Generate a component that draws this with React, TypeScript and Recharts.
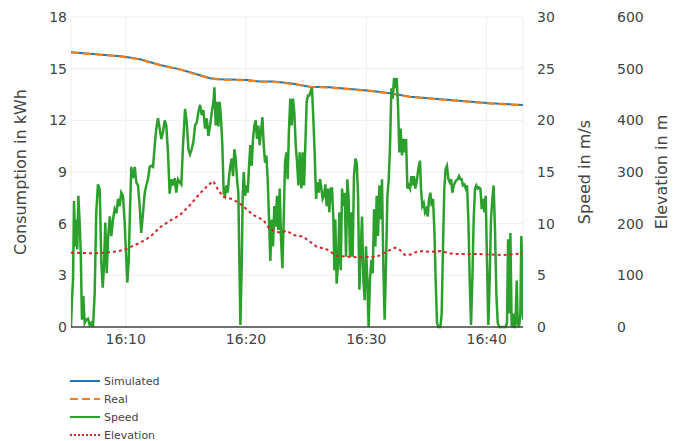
import { CartesianGrid, Legend, Line, LineChart, XAxis, YAxis } from "recharts";

// minutes after 16:00
const consTime = [5.45, 7.03, 8.28, 9.8, 11.19, 12.85, 14.51, 15.62, 17.0, 17.84, 20.05, 21.16, 22.27, 23.65, 25.32, 26.98, 30.31, 31.97, 33.63, 36.95, 40.28, 43.02];
const simulated = [15.95, 15.86, 15.8, 15.7, 15.55, 15.21, 14.96, 14.73, 14.44, 14.38, 14.34, 14.25, 14.26, 14.15, 13.95, 13.92, 13.72, 13.57, 13.37, 13.18, 12.99, 12.89];
const real = [15.94, 15.85, 15.79, 15.68, 15.53, 15.2, 14.95, 14.71, 14.42, 14.37, 14.32, 14.24, 14.24, 14.13, 13.94, 13.9, 13.7, 13.55, 13.36, 13.16, 12.98, 12.87];

const speedTime = [
  5.45, 5.53, 5.62, 5.7, 5.81, 5.89, 5.97, 6.06, 6.17, 6.26, 6.36, 6.47, 6.59, 6.72, 6.86, 7.0, 7.14, 7.28, 7.42, 7.55,
  7.69, 7.84, 7.97, 8.09, 8.19, 8.3, 8.42, 8.53, 8.67, 8.8, 8.94, 9.08, 9.22, 9.36, 9.5, 9.63, 9.77, 9.91, 10.02, 10.13,
  10.25, 10.35, 10.46, 10.6, 10.75, 10.88, 11.02, 11.16, 11.29, 11.44, 11.58, 11.71, 11.85, 11.99, 12.12, 12.27, 12.41, 12.54, 12.68, 12.82,
  12.96, 13.1, 13.24, 13.37, 13.51, 13.65, 13.79, 13.93, 14.07, 14.2, 14.34, 14.49, 14.62, 14.76, 14.93, 15.07, 15.21, 15.34, 15.48, 15.62,
  15.76, 15.9, 16.04, 16.18, 16.32, 16.45, 16.59, 16.73, 16.87, 17.01, 17.15, 17.29, 17.37, 17.48, 17.59, 17.7, 17.81, 17.92, 18.03, 18.14,
  18.25, 18.37, 18.48, 18.59, 18.7, 18.81, 18.92, 19.03, 19.14, 19.25, 19.36, 19.45, 19.53, 19.64, 19.72, 19.81, 19.92, 20.03, 20.14, 20.25,
  20.36, 20.47, 20.58, 20.69, 20.8, 20.91, 21.02, 21.13, 21.24, 21.36, 21.47, 21.58, 21.69, 21.8, 21.91, 22.02, 22.13, 22.24, 22.35, 22.46,
  22.57, 22.68, 22.8, 22.91, 23.02, 23.13, 23.24, 23.35, 23.46, 23.57, 23.68, 23.79, 23.9, 24.01, 24.13, 24.24, 24.35, 24.46, 24.6, 24.71,
  24.82, 24.93, 25.04, 25.15, 25.26, 25.37, 25.48, 25.59, 25.71, 25.82, 25.93, 26.04, 26.15, 26.26, 26.37, 26.48, 26.59, 26.7, 26.81, 26.92,
  27.04, 27.15, 27.26, 27.34, 27.42, 27.53, 27.65, 27.76, 27.87, 27.98, 28.09, 28.2, 28.31, 28.42, 28.53, 28.64, 28.75, 28.86, 28.97, 29.09,
  29.2, 29.31, 29.42, 29.53, 29.64, 29.75, 29.86, 29.97, 30.08, 30.19, 30.3, 30.42, 30.53, 30.64, 30.75, 30.86, 30.97, 31.08, 31.19, 31.3,
  31.41, 31.52, 31.64, 31.75, 31.86, 31.97, 32.08, 32.19, 32.3, 32.41, 32.52, 32.63, 32.74, 32.85, 32.96, 33.08, 33.19, 33.3, 33.41, 33.52,
  33.63, 33.74, 33.85, 33.96, 34.07, 34.18, 34.32, 34.46, 34.54, 34.65, 34.77, 34.88, 34.99, 35.1, 35.21, 35.32, 35.43, 35.54, 35.65, 35.76,
  35.87, 35.98, 36.15, 36.26, 36.37, 36.48, 36.59, 36.7, 36.82, 36.93, 37.04, 37.15, 37.26, 37.37, 37.48, 37.59, 37.7, 37.81, 37.92, 38.03,
  38.15, 38.26, 38.37, 38.48, 38.59, 38.7, 38.81, 38.92, 39.03, 39.14, 39.25, 39.37, 39.48, 39.59, 39.7, 39.81, 39.92, 40.03, 40.14, 40.25,
  40.36, 40.47, 40.58, 40.69, 40.81, 40.92, 41.03, 41.25, 41.47, 41.58, 41.69, 41.78, 41.89, 41.97, 42.08, 42.19, 42.27, 42.38, 42.5, 42.58,
  42.69, 42.8, 42.88, 42.97, 43.02,
];
const speedValue = [
  0, 2.6, 4.6, 12.2, 7.8, 10.4, 7.5, 12.7, 10.1, 7.2, 0.7, 3.0, 0.4, 0.7, 0.8, 0.2, 0.4, 0, 3.3, 11.1,
  13.8, 13.3, 6.2, 3.8, 5.9, 10.1, 5.2, 8.5, 10.7, 8.8, 10.4, 11.4, 11.0, 12.4, 11.7, 13.0, 12.7, 10.1, 7.2, 4.3,
  6.5, 11.1, 15.5, 14.4, 15.5, 14.0, 13.7, 11.7, 9.1, 11.1, 13.0, 13.7, 14.3, 15.5, 15.6, 15.5, 17.6, 19.2, 20.2, 19.2,
  18.2, 18.9, 20.0, 19.5, 16.9, 12.9, 14.3, 13.7, 14.4, 13.0, 14.3, 14.0, 13.8, 17.6, 21.1, 19.8, 17.2, 16.7, 17.2, 17.9,
  19.5, 19.8, 20.8, 21.5, 20.5, 21.0, 19.2, 20.2, 18.5, 19.5, 20.8, 21.8, 23.2, 19.5, 21.8, 19.4, 21.8, 20.2, 17.6, 13.0,
  12.7, 13.7, 13.0, 14.6, 15.6, 16.3, 14.6, 17.2, 16.3, 14.3, 13.0, 5.9, 0.2, 5.9, 12.7, 15.0, 12.7, 13.7, 13.0, 15.6,
  17.6, 15.6, 18.2, 19.5, 20.0, 18.2, 19.5, 17.6, 18.9, 20.3, 17.6, 15.9, 16.6, 14.3, 10.4, 6.4, 10.4, 7.8, 11.7, 9.7,
  12.7, 9.4, 13.4, 8.5, 5.7, 10.4, 15.9, 16.9, 14.3, 19.2, 22.1, 19.5, 22.1, 20.8, 17.6, 15.9, 13.7, 16.9, 13.4, 16.9,
  13.7, 17.7, 21.8, 22.4, 22.4, 22.8, 23.2, 20.2, 16.6, 12.4, 14.0, 13.0, 14.3, 13.4, 12.4, 12.7, 13.8, 11.7, 13.4, 11.1,
  13.4, 13.4, 10.4, 5.5, 10.4, 4.2, 6.2, 11.1, 5.5, 13.4, 11.7, 13.0, 6.8, 14.3, 12.4, 6.8, 11.1, 6.8, 14.6, 16.3,
  15.9, 12.7, 3.6, 7.2, 10.7, 4.6, 2.6, 7.8, 4.6, 0, 4.6, 6.5, 5.2, 11.4, 7.8, 12.7, 8.8, 13.7, 10.4, 14.3,
  5.9, 0.7, 6.5, 12.7, 14.3, 17.6, 23.1, 22.1, 24.1, 23.1, 24.1, 21.5, 16.9, 19.2, 16.6, 18.2, 16.9, 18.2, 13.4, 13.7,
  13.4, 14.6, 13.7, 14.6, 13.4, 14.0, 15.3, 16.1, 13.4, 11.7, 12.0, 11.1, 11.4, 10.7, 12.4, 13.0, 11.7, 12.4, 9.5, 4.6,
  0.4, 0, 0, 1.3, 7.8, 13.4, 15.3, 15.6, 14.3, 14.0, 14.3, 13.0, 13.7, 14.0, 14.2, 14.3, 14.6, 14.3, 14.3, 13.7,
  13.8, 13.4, 13.7, 10.4, 4.6, 0.2, 4.6, 10.4, 13.4, 13.7, 13.4, 13.5, 13.4, 11.4, 12.4, 11.1, 12.7, 6.2, 0.2, 4.6,
  10.4, 12.4, 13.7, 9.5, 3.0, 0.4, 0, 0, 0, 0, 0.4, 8.5, 1.3, 9.1, 0, 1.3, 0, 0, 4.5, 0.4,
  0, 1.3, 8.8, 4.5, 0.7,
];

const elevTime = [5.45, 7.3, 8.69, 9.52, 10.08, 11.19, 12.02, 12.85, 13.68, 14.51, 15.34, 16.17, 16.86, 17.28, 17.69, 18.11, 18.94, 19.64, 20.6, 21.44, 21.99, 22.82, 23.38, 23.93, 24.76, 25.87, 26.71, 27.54, 29.2, 30.86, 31.97, 32.38, 32.8, 33.21, 33.63, 34.32, 35.29, 36.12, 37.23, 39.17, 41.39, 43.02];
const elevValue = [143.8, 142.6, 144.5, 147.6, 151.5, 163, 174.7, 193, 205.7, 216.7, 236, 258.7, 274.8, 282.5, 265, 252, 247, 236, 216.7, 207, 189, 182.5, 186.4, 178, 174.7, 155.4, 150.3, 137.4, 134.9, 136, 149, 153.5, 149, 139.3, 140, 147, 145.5, 147, 141.3, 141.3, 139.3, 142.6];

const xTicks = [10, 20, 30, 40];
const consTicks = [0, 3, 6, 9, 12, 15, 18];
const speedTicks = [0, 5, 10, 15, 20, 25, 30];
const elevTicks = [0, 100, 200, 300, 400, 500, 600];

const simData = consTime.map((t, i) => ({ t, v: simulated[i] }));
const realData = consTime.map((t, i) => ({ t, v: real[i] }));
const speedData = speedTime.map((t, i) => ({ t, v: speedValue[i] }));
const elevData = elevTime.map((t, i) => ({ t, v: elevValue[i] }));

const FONT = "'DejaVu Sans', Verdana, sans-serif";
const TEXT = "#444";

const legendItems = [
  { name: "Simulated", color: "#1f77b4", dash: undefined },
  { name: "Real", color: "#ff7f0e", dash: "8 4" },
  { name: "Speed", color: "#2ca02c", dash: undefined },
  { name: "Elevation", color: "#d62728", dash: "2 2" },
];

function axisTitle(text: string, dx: number) {
  return ({ viewBox }: any) => {
    const cx = viewBox.x + dx;
    const cy = viewBox.y + viewBox.height / 2;
    return (
      <text
        x={cx}
        y={cy}
        transform={`rotate(-90 ${cx} ${cy})`}
        textAnchor="middle"
        dominantBaseline="central"
        fill={TEXT}
        fontSize={16}
        fontFamily={FONT}
      >
        {text}
      </text>
    );
  };
}

function renderLegend() {
  return (
    <div style={{ height: 72, fontFamily: FONT, fontSize: 11, color: TEXT }}>
      {legendItems.map((it) => (
        <div key={it.name} style={{ height: 18, display: "flex", alignItems: "center" }}>
          <svg width={34} height={18}>
            <line x1={0} x2={30} y1={9} y2={9} stroke={it.color} strokeWidth={2} strokeDasharray={it.dash} />
          </svg>
          <span>{it.name}</span>
        </div>
      ))}
    </div>
  );
}

export default function App() {
  const tick = { fill: TEXT, fontSize: 14, fontFamily: FONT };
  return (
    <div style={{ position: "absolute", left: 0, top: 0, background: "#fff" }}>
      <LineChart width={681} height={441} margin={{ top: 17, right: 0, bottom: 12, left: 0 }}>
        <CartesianGrid stroke="#eee" yAxisId="cons" />
        <XAxis
          dataKey="t"
          type="number"
          domain={[5.45, 43.02]}
          allowDataOverflow
          ticks={xTicks}
          tickFormatter={(m: number) => `16:${m}`}
          tick={tick}
          tickLine={false}
          tickSize={0}
          tickMargin={7}
          stroke="#444"
          strokeWidth={1.5}
          height={30}
        />
        <YAxis
          yAxisId="cons"
          domain={[0, 18]}
          ticks={consTicks}
          width={71}
          tick={tick}
          axisLine={false}
          tickLine={false}
          tickSize={0}
          tickMargin={4}
          label={{ content: axisTitle("Consumption in kWh", 20) }}
        />
        <YAxis
          yAxisId="r2"
          orientation="right"
          domain={[0, 600]}
          ticks={elevTicks}
          width={80}
          tick={tick}
          axisLine={false}
          tickLine={false}
          tickSize={0}
          tickMargin={16}
          label={{ content: axisTitle("Elevation in m", 60) }}
        />
        <YAxis
          yAxisId="r1"
          orientation="right"
          domain={[0, 30]}
          ticks={speedTicks}
          width={78}
          tick={tick}
          axisLine={false}
          tickLine={false}
          tickSize={0}
          tickMargin={14}
          label={{ content: axisTitle("Speed in m/s", 61) }}
        />
        <Legend
          content={renderLegend}
          verticalAlign="bottom"
          wrapperStyle={{ left: 70, top: 372, bottom: "auto", width: "auto" }}
        />
        <Line data={simData} dataKey="v" yAxisId="cons" name="Simulated" stroke="#1f77b4" strokeWidth={2} dot={false} isAnimationActive={false} />
        <Line data={realData} dataKey="v" yAxisId="cons" name="Real" stroke="#ff7f0e" strokeWidth={2} strokeDasharray="8 4" dot={false} isAnimationActive={false} />
        <Line data={speedData} dataKey="v" yAxisId="r1" name="Speed" stroke="#2ca02c" strokeWidth={2.5} dot={false} isAnimationActive={false} />
        <Line data={elevData} dataKey="v" yAxisId="r2" name="Elevation" stroke="#d62728" strokeWidth={2} strokeDasharray="3 3" dot={false} isAnimationActive={false} />
      </LineChart>
    </div>
  );
}
